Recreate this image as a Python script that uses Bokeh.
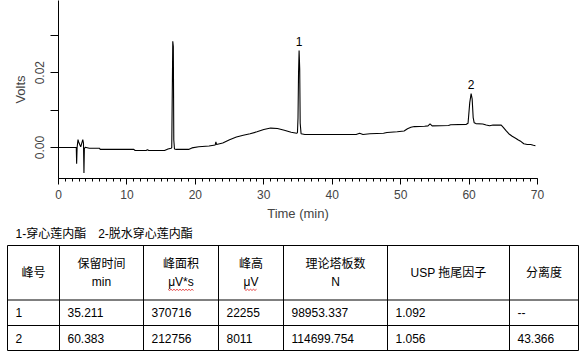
import numpy as np
from bokeh.plotting import figure
from bokeh.models import Range1d, FixedTicker, SingleIntervalTicker, PrintfTickFormatter
from bokeh.core.properties import value
from bokeh.embed import file_html
from bokeh.resources import INLINE

# ---------------- chromatogram data ----------------
time_min = [0.0, 2.6, 2.65, 2.72, 2.85, 2.95, 3.1, 3.25, 3.4, 3.55, 3.65, 3.72, 3.78, 3.9,
            4.5, 6.0, 6.1, 11.0, 11.2, 12.8, 13.0, 13.2, 15.5, 16.0, 16.45, 16.55, 16.62,
            16.7, 16.78, 16.85, 16.95, 17.2, 19.0, 19.5, 20.5, 22.0, 22.9, 23.0, 23.1, 24.0,
            25.0, 26.0, 27.0, 28.0, 29.0, 30.0, 31.0, 32.0, 33.0, 34.0, 34.8, 34.92, 35.0,
            35.08, 35.16, 35.25, 35.32, 35.45, 36.0, 43.5, 44.0, 44.5, 45.5, 47.5, 48.0,
            49.5, 50.5, 51.0, 51.5, 52.0, 53.5, 54.0, 54.3, 54.6, 57.0, 57.3, 59.6, 59.85,
            60.1, 60.3, 60.45, 60.6, 60.75, 61.0, 62.0, 62.5, 63.0, 63.5, 64.7, 65.0, 65.4,
            65.8, 66.3, 66.8, 67.2, 67.6, 68.0, 68.5, 69.0, 69.4, 69.7]
volts = [0.0, 0.0, -0.0043, 0.0, 0.0021, 0.0015, 0.0008, 0.0002, 0.0012, 0.0021, 0.0012,
         -0.0068, -0.0003, 0.0001, -0.0002, -0.0002, -0.0005, -0.0005, -0.0008, -0.0008,
         -0.0006, -0.0008, -0.0008, -0.0004, -0.0002, 0.0, 0.0135, 0.0284, 0.0270, 0.0020,
         -0.0004, -0.0005, -0.0005, -0.0001, 0.0002, 0.0004, 0.0007, 0.0015, 0.0008, 0.0012,
         0.0021, 0.0028, 0.0033, 0.0037, 0.0042, 0.0048, 0.0052, 0.0051, 0.0046, 0.0041,
         0.0038, 0.0040, 0.0078, 0.0200, 0.0259, 0.0210, 0.0065, 0.0037, 0.0035, 0.0035,
         0.0038, 0.0035, 0.0037, 0.0038, 0.0040, 0.0042, 0.0044, 0.0050, 0.0054, 0.0056,
         0.0057, 0.0058, 0.0063, 0.0058, 0.0059, 0.0061, 0.0062, 0.0065, 0.0120, 0.0144,
         0.0130, 0.0080, 0.0066, 0.0064, 0.0063, 0.0060, 0.0058, 0.0060, 0.0060, 0.0054,
         0.0045, 0.0037, 0.0030, 0.0025, 0.0020, 0.0016, 0.0010, 0.0008, 0.0008, 0.0006,
         0.0005]

peak_labels = ["1", "2"]
peak_label_times = [35.16, 60.3]
peak_label_volts = [0.0259, 0.0144]

y_major_ticks = [0.0, 0.02]
y_minor_ticks = [0.01, 0.03]

# ---------------- table data ----------------
caption = "1-穿心莲内酯\u30002-脱水穿心莲内酯"
header_top = ["峰号", "保留时间", "峰面积", "峰高", "理论塔板数", "USP 拖尾因子", "分离度"]
header_unit = ["", "min", "μV*s", "μV", "N", "", ""]
peak_no = ["1", "2"]
ret_time = ["35.211", "60.383"]
peak_area = ["370716", "212756"]
peak_height = ["22255", "8011"]
plates = ["98953.337", "114699.754"]
tailing = ["1.092", "1.056"]
resolution = ["--", "43.366"]

LATIN = "Liberation Sans"
MIXED = "'Liberation Sans', 'Noto Sans CJK SC'"

# ---------------- layout (pixels) ----------------
W, H = 586, 357
FL, FR, FT, FB = 58, 537, 0, 178   # chart frame edges

p = figure(width=W, height=H, output_backend="svg", toolbar_location=None,
           x_range=Range1d(0, 70), y_range=Range1d(-0.00827, 0.03928),
           min_border_left=FL, min_border_right=W - FR, min_border_top=FT,
           min_border_bottom=H - FB)
p.outline_line_color = None
p.xgrid.visible = False
p.ygrid.visible = False
p.background_fill_color = "white"
p.border_fill_color = "white"

# pixel-space ranges for the table drawn beneath the chart
p.extra_x_ranges = {"px": Range1d(FL, FR)}
p.extra_y_ranges = {"py": Range1d(FB, FT)}

p.line(time_min, volts, line_color="black", line_width=1.1)
p.text(x=peak_label_times, y=peak_label_volts, text=peak_labels,
       text_font=value(LATIN), text_font_size="12px", text_color="black",
       text_align="center", text_baseline="bottom", y_offset=-5)

xa = p.xaxis[0]
xa.ticker = SingleIntervalTicker(interval=10, num_minor_ticks=10)
xa.axis_label = "Time (min)"
xa.axis_label_text_font = LATIN
xa.axis_label_text_font_size = "13px"
xa.axis_label_text_font_style = "normal"
xa.axis_label_standoff = 4
xa.major_label_text_font = LATIN
xa.major_label_text_font_size = "12px"
xa.major_label_standoff = 5
xa.major_tick_out = 6
xa.major_tick_in = 0
xa.minor_tick_out = 3
xa.minor_tick_in = 0
xa.axis_line_color = "black"
xa.major_tick_line_color = "black"
xa.minor_tick_line_color = "black"

ya = p.yaxis[0]
ya.ticker = FixedTicker(ticks=y_major_ticks, minor_ticks=y_minor_ticks)
ya.formatter = PrintfTickFormatter(format="%.2f")
ya.major_label_orientation = "vertical"
ya.axis_label = "Volts"
ya.axis_label_text_font = LATIN
ya.axis_label_text_font_size = "13px"
ya.axis_label_text_font_style = "normal"
ya.axis_label_standoff = 5
ya.major_label_text_font = LATIN
ya.major_label_text_font_size = "12px"
ya.major_label_standoff = 6
ya.major_tick_out = 8
ya.major_tick_in = 0
ya.minor_tick_out = 8
ya.minor_tick_in = 0
ya.axis_line_color = "black"
ya.major_tick_line_color = "black"
ya.minor_tick_line_color = "black"

# ---------------- table (drawn in page pixels, unclipped overlay) ----------------
TK = dict(x_range_name="px", y_range_name="py", level="overlay")

col_edges = [7, 59, 143, 218, 283, 387, 509, 578]
row_edges = [245, 299.5, 325, 350]

hy = list(row_edges)
p.segment(x0=[col_edges[0]] * len(hy), y0=hy, x1=[col_edges[-1]] * len(hy), y1=hy,
          line_color="black", line_width=1, **TK)
vx = list(col_edges)
p.segment(x0=vx, y0=[row_edges[0]] * len(vx), x1=vx, y1=[row_edges[-1]] * len(vx),
          line_color="black", line_width=1, **TK)

p.text(x=[15], y=[233.5], text=[caption], text_font=value(MIXED), text_font_size="12px",
       text_color="black", text_align="left", text_baseline="middle", **TK)

centers = [(a + b) / 2 for a, b in zip(col_edges[:-1], col_edges[1:])]
hdr_mid = (row_edges[0] + row_edges[1]) / 2
single_x, single_t, two_x, two_t, two_u = [], [], [], [], []
for cx, ht, hu in zip(centers, header_top, header_unit):
    if hu:
        two_x.append(cx); two_t.append(ht); two_u.append(hu)
    else:
        single_x.append(cx); single_t.append(ht)
p.text(x=single_x, y=[hdr_mid] * len(single_x), text=single_t, text_font=value(MIXED),
       text_font_size="12px", text_color="black", text_align="center",
       text_baseline="middle", **TK)
p.text(x=two_x, y=[hdr_mid - 9] * len(two_x), text=two_t, text_font=value(MIXED),
       text_font_size="12px", text_color="black", text_align="center",
       text_baseline="middle", **TK)
p.text(x=two_x, y=[hdr_mid + 9.5] * len(two_x), text=two_u, text_font=value(MIXED),
       text_font_size="12px", text_color="black", text_align="center",
       text_baseline="middle", **TK)

# red wavy (spell-check style) underline under the μV units
for cx, hu in zip(two_x, two_u):
    if hu.startswith("μV"):
        w = 6.5 * len(hu)
        xs = np.arange(cx - w / 2, cx + w / 2 + 0.1, 1.5)
        ys = hdr_mid + 16.5 + np.where(np.arange(len(xs)) % 2 == 0, 0.0, 1.2)
        p.line(xs, ys, line_color="#e02020", line_width=0.8, **TK)

columns = [peak_no, ret_time, peak_area, peak_height, plates, tailing, resolution]
for r in range(len(peak_no)):
    ym = (row_edges[r + 1] + row_edges[r + 2]) / 2
    xs = [e + 8 for e in col_edges[:-1]]
    p.text(x=xs, y=[ym] * len(xs), text=[c[r] for c in columns], text_font=value(LATIN),
           text_font_size="12px", text_color="black", text_align="left",
           text_baseline="middle", **TK)

open("out.html", "w").write(file_html(p, INLINE))
